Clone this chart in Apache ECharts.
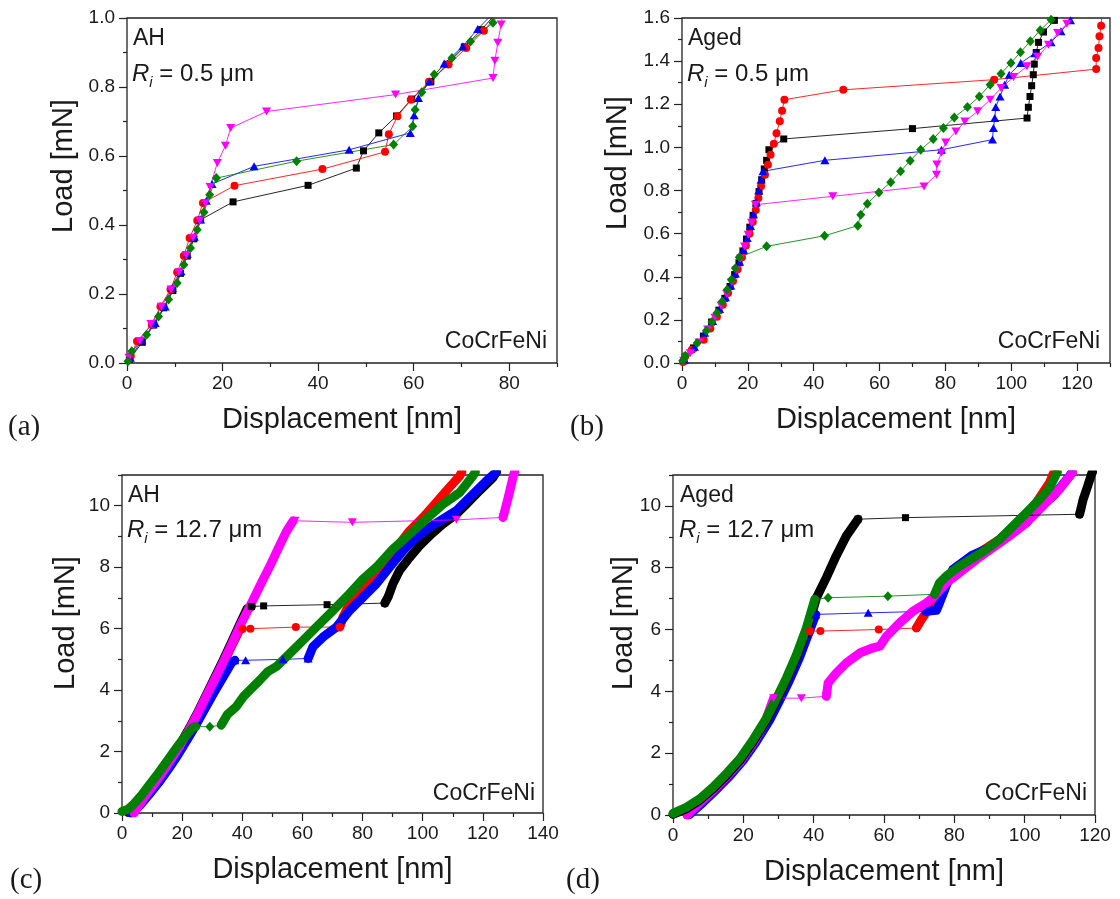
<!DOCTYPE html>
<html>
<head>
<meta charset="utf-8">
<script src="https://cdn.jsdelivr.net/npm/echarts@6/dist/echarts.min.js"></script>
<style>
  html, body { margin: 0; padding: 0; background: #ffffff; }
  #chart { width: 1120px; height: 899px; }
</style>
</head>
<body>
<div id="chart"></div>
<script>
// Tick values
const xTicksA = [0, 20, 40, 60, 80];
const xMinorA = [10, 30, 50, 70, 90];
const yTicksA = [0, 0.2, 0.4, 0.6, 0.8, 1.0];
const yMinorA = [0.1, 0.3, 0.5, 0.7, 0.9];
const xTicksB = [0, 20, 40, 60, 80, 100, 120];
const xMinorB = [10, 30, 50, 70, 90, 110, 130];
const yTicksB = [0, 0.2, 0.4, 0.6, 0.8, 1.0, 1.2, 1.4, 1.6];
const yMinorB = [0.1, 0.3, 0.5, 0.7, 0.9, 1.1, 1.3, 1.5];
const xTicksC = [0, 20, 40, 60, 80, 100, 120, 140];
const xMinorC = [10, 30, 50, 70, 90, 110, 130];
const xTicksD = [0, 20, 40, 60, 80, 100, 120];
const xMinorD = [10, 30, 50, 70, 90, 110];
const yTicksCD = [0, 2, 4, 6, 8, 10];
const yMinorCD = [1, 3, 5, 7, 9, 11];

// (a) AH, Ri = 0.5 um
const aBlack = [[0.5,0.01],[3.2,0.06],[5.6,0.11],[7.7,0.16],[9.6,0.21],[11.2,0.26],[12.6,0.31],[14.0,0.36],[15.4,0.415],[22.2,0.467],[37.9,0.515],[48.0,0.565],[49.5,0.615],[52.7,0.667],[56.4,0.716],[59.6,0.765],[63.6,0.816],[67.0,0.866],[70.6,0.916],[74.2,0.966],[77.0,1.01]];
const aRed = [[0.8,0.02],[2.1,0.063],[5.2,0.111],[7.0,0.164],[9.1,0.213],[10.5,0.263],[11.9,0.311],[13.1,0.362],[14.7,0.413],[15.9,0.464],[22.5,0.514],[40.9,0.562],[54.0,0.612],[54.8,0.663],[56.6,0.715],[59.4,0.763],[63.2,0.815],[67.3,0.865],[71.0,0.913],[74.7,0.963],[77.5,1.01]];
const aBlue = [[0.7,0.015],[3.1,0.066],[5.9,0.116],[8.0,0.164],[9.5,0.218],[11.3,0.266],[12.6,0.317],[14.1,0.366],[15.4,0.416],[16.6,0.47],[17.8,0.519],[26.6,0.570],[46.5,0.618],[59.3,0.667],[60.1,0.718],[61.0,0.768],[63.3,0.816],[66.4,0.868],[70.3,0.918],[73.4,0.968],[76.0,1.005]];
const aMagenta = [[0.4,0.015],[2.7,0.064],[5.0,0.113],[7.2,0.163],[9.2,0.213],[10.9,0.263],[12.4,0.313],[13.8,0.363],[15.2,0.413],[16.4,0.463],[17.4,0.51],[18.9,0.58],[20.6,0.630],[21.7,0.681],[29.2,0.729],[56.2,0.778],[76.6,0.826],[77.0,0.876],[77.6,0.928],[78.3,0.981],[78.8,1.03]];
const aGreen = [[0.2,0.005],[1.0,0.034],[4.1,0.082],[6.6,0.135],[8.7,0.184],[10.5,0.232],[11.9,0.285],[13.3,0.333],[14.7,0.386],[16.1,0.437],[17.3,0.488],[18.7,0.536],[35.5,0.585],[55.8,0.633],[59.8,0.686],[60.3,0.734],[61.7,0.785],[64.3,0.836],[68.0,0.884],[71.9,0.932],[76.6,0.986],[78.0,1.02]];

// (b) Aged, Ri = 0.5 um
const bBlack = [[0.6,0.01],[3.5,0.07],[6.5,0.125],[9.0,0.19],[11.2,0.245],[13.0,0.3],[14.6,0.355],[16.0,0.41],[17.3,0.465],[18.5,0.52],[19.6,0.575],[20.6,0.63],[21.6,0.685],[22.5,0.74],[23.4,0.795],[24.2,0.85],[25.0,0.9],[25.7,0.94],[26.4,0.989],[30.9,1.039],[70.0,1.087],[104.8,1.136],[105.2,1.186],[105.7,1.236],[106.2,1.286],[106.7,1.337],[107.0,1.386],[107.6,1.44],[108.3,1.487],[109.8,1.535],[113.1,1.589],[115.0,1.62]];
const bRed = [[0.3,0.005],[1.0,0.031],[3.0,0.062],[6.6,0.108],[8.6,0.16],[10.6,0.215],[12.4,0.27],[14.0,0.325],[15.5,0.38],[16.9,0.435],[18.2,0.49],[19.4,0.545],[20.5,0.6],[21.5,0.655],[22.4,0.71],[23.2,0.765],[24.0,0.82],[25.2,0.873],[26.1,0.920],[26.9,0.966],[27.9,1.017],[28.7,1.066],[29.7,1.121],[30.4,1.170],[31.1,1.221],[49.0,1.267],[94.8,1.314],[125.8,1.363],[125.8,1.414],[126.5,1.461],[126.8,1.515],[127.3,1.564],[127.6,1.62]];
const bBlue = [[0.8,0.015],[3.8,0.075],[6.9,0.14],[9.3,0.195],[11.4,0.25],[13.2,0.305],[14.8,0.36],[16.2,0.415],[17.5,0.47],[18.7,0.525],[19.8,0.58],[20.8,0.635],[21.7,0.69],[22.6,0.745],[23.3,0.8],[24.0,0.85],[24.6,0.889],[43.4,0.94],[78.8,0.989],[94.3,1.036],[94.6,1.09],[95.0,1.136],[95.3,1.187],[96.6,1.236],[98.0,1.29],[99.4,1.337],[102.9,1.391],[107.2,1.437],[112.1,1.487],[115.1,1.538],[118.0,1.589],[120.0,1.62]];
const bMagenta = [[0.5,0.01],[2.5,0.045],[5.2,0.095],[7.8,0.155],[10.0,0.21],[11.9,0.265],[13.6,0.32],[15.1,0.375],[16.5,0.43],[17.8,0.485],[19.0,0.54],[20.1,0.595],[21.1,0.65],[22.3,0.734],[45.8,0.773],[73.5,0.819],[77.3,0.873],[77.4,0.921],[78.8,0.975],[80.1,1.023],[83.2,1.074],[85.9,1.12],[89.8,1.167],[93.6,1.221],[96.9,1.275],[100.7,1.326],[104.8,1.376],[108.0,1.42],[111.3,1.476],[114.1,1.530],[116.9,1.573],[118.5,1.62]];
const bGreen = [[0.2,0.01],[1.0,0.034],[4.6,0.093],[7.4,0.15],[9.1,0.19],[10.6,0.232],[12.2,0.285],[13.7,0.34],[15.0,0.386],[16.2,0.44],[17.4,0.49],[25.7,0.541],[43.3,0.590],[53.4,0.637],[54.3,0.688],[56.3,0.739],[59.8,0.791],[63.4,0.838],[66.4,0.889],[69.3,0.938],[72.5,0.989],[76.3,1.039],[79.4,1.09],[82.7,1.139],[86.7,1.187],[90.3,1.236],[93.6,1.291],[96.9,1.342],[99.9,1.391],[102.8,1.441],[105.8,1.492],[108.8,1.543],[112.1,1.592],[114.0,1.62]];

// (c) AH, Ri = 12.7 um : loading before pop-in, pop-in points, loading after
const cBlackPre = [[2,0.02],[4.5,0.25],[7.5,0.6],[10.5,0.97],[13.6,1.38],[17,1.87],[19.7,2.3],[22.5,2.78],[25.3,3.3],[28,3.84],[30.8,4.4],[33.6,4.96],[36.4,5.55],[39.1,6.13],[41.6,6.65],[43,6.72]];
const cBlackPop = [[43,6.72],[47.1,6.74],[68.2,6.78],[87.4,6.83]];
const cBlackPost = [[87.4,6.83],[88.5,7.03],[90.1,7.46],[92.3,7.89],[95.7,8.32],[99.0,8.70],[102.9,9.08],[106.8,9.41],[111.2,9.73],[114.5,10.05],[118.9,10.49],[123.4,10.92],[124.5,11.1]];
const cRedPre = [[3,0],[5.5,0.3],[8.3,0.65],[11.3,1.05],[14.4,1.47],[17.6,1.93],[20.3,2.35],[23,2.8],[25.8,3.3],[28.5,3.83],[31.2,4.36],[34,4.92],[36.7,5.48],[39.2,5.98],[40,6.0]];
const cRedPop = [[40,6.0],[42.7,6.0],[57.8,6.05],[72.4,6.05]];
const cRedPost = [[72.4,6.05],[73.5,6.38],[75.7,6.81],[80.2,7.35],[84.6,7.78],[89,8.32],[92.3,8.76],[95.7,9.19],[100.1,9.62],[104,10.05],[107.9,10.49],[112.3,10.97],[113,11.1]];
const cBluePre = [[3,0],[6,0.25],[9,0.6],[12.3,1.0],[15.6,1.45],[18.8,1.92],[21.8,2.4],[24.8,2.9],[27.8,3.43],[30.8,3.95],[33.8,4.45],[36.5,4.9],[37.5,4.97]];
const cBluePop = [[37.5,4.97],[41.1,4.97],[53.5,5.0],[61.9,5.03]];
const cBluePost = [[61.9,5.03],[63.5,5.41],[66.9,5.73],[71.3,6.05],[75.7,6.59],[80.2,7.03],[84.6,7.46],[89.0,8.0],[93.5,8.54],[97.9,8.97],[102.3,9.30],[106.8,9.57],[111.2,9.84],[115.6,10.27],[121.2,10.81],[124.5,11.1]];
const cMagentaPre = [[4,0],[7,0.45],[10,0.85],[13.3,1.3],[16.7,1.8],[19.7,2.27],[22.5,2.74],[25.3,3.26],[28,3.8],[30.8,4.34],[33.6,4.9],[36.4,5.48],[39.1,6.06],[42.5,6.72],[45.8,7.38],[49.1,8.02],[51.9,8.6],[54.6,9.15],[56.9,9.51]];
const cMagentaPop = [[57.5,9.51],[76.6,9.46],[111.2,9.54],[126.7,9.62]];
const cMagentaPost = [[126.7,9.62],[127.2,9.8],[128.0,10.1],[129.0,10.5],[130.2,11.0],[130.6,11.1]];
const cGreenPre = [[0,0.05],[2,0.12],[4,0.3],[6.5,0.58],[9,0.9],[11.5,1.22],[14,1.56],[16.5,1.9],[19,2.24],[21.5,2.55],[23.5,2.78],[24.5,2.81]];
const cGreenPop = [[24.5,2.81],[29.2,2.81],[33.0,2.86]];
const cGreenPost = [[33.0,2.86],[35,3.2],[38.0,3.46],[40.5,3.8],[42.5,4.0],[45.8,4.32],[48.5,4.6],[51.3,4.76],[55.8,5.19],[60.2,5.62],[64.6,6.05],[70.2,6.59],[75.7,7.14],[80.2,7.62],[84.6,8.0],[90.1,8.59],[95.7,9.08],[101.2,9.57],[106.8,10.05],[112.3,10.43],[116.7,10.97],[117.5,11.1]];

// (d) Aged, Ri = 12.7 um
const dRedPre = [[4,0],[7.8,0.38],[11.6,0.78],[15.4,1.22],[19.2,1.7],[22.9,2.3],[26.7,3.0],[29.6,3.65],[32.4,4.3],[35.3,5.05],[37.6,5.7],[38.9,5.95]];
const dRedPop = [[38.9,5.95],[41.9,5.95],[58.5,6.0],[69.2,6.05]];
const dRedPost = [[69.2,6.05],[70.0,6.2],[70.6,6.32],[71.6,6.49],[73,6.86],[76.8,7.51],[81.5,7.95],[87.2,8.49],[92.9,8.92],[98.6,9.46],[103.3,10.1],[107.1,10.76],[108.1,11.03],[108.5,11.1]];
const dBluePre = [[4.5,0],[8.5,0.4],[12.3,0.82],[16.1,1.26],[19.9,1.76],[23.6,2.36],[27.4,3.05],[30.3,3.7],[33.1,4.35],[36.0,5.1],[38.8,5.95],[40.6,6.49]];
const dBluePop = [[40.6,6.49],[55.5,6.54],[72.0,6.59]];
const dBluePost = [[72.0,6.59],[74.9,6.62],[75.8,6.86],[77.3,7.3],[79.6,7.95],[85,8.4],[91,8.7],[96,9.1],[100.5,9.46],[104.3,10.0],[108.1,10.32],[112.8,10.97],[113.5,11.1]];
const dMagentaPre = [[4,0],[7.8,0.42],[11.6,0.82],[15.4,1.26],[19.2,1.74],[22.9,2.34],[26.0,2.95],[28.6,3.78]];
const dMagentaPop = [[28.6,3.78],[36.5,3.78],[43.6,3.84]];
const dMagentaPost = [[43.6,3.84],[44.1,4.27],[46.4,4.59],[49.3,4.92],[53.1,5.24],[56.9,5.41],[58.8,5.46],[60.7,5.78],[64.5,6.22],[68.2,6.59],[72.0,6.86],[74.4,7.08],[77.7,7.51],[81.5,7.84],[86.3,8.27],[91.0,8.65],[95.7,9.03],[100.5,9.46],[105.2,10.0],[109.9,10.54],[113.3,11.03],[113.6,11.1]];
const dBlackPre = [[0,0.02],[3.8,0.2],[7.6,0.48],[11.4,0.85],[15.2,1.28],[19.0,1.76],[22.7,2.36],[26.5,3.05],[29.4,3.7],[32.2,4.35],[35.1,5.1],[37.9,5.95],[40.0,6.7],[40.8,7.03],[43.6,7.68],[46.4,8.38],[49.3,9.03],[52.6,9.57]];
const dBlackPop = [[52.6,9.57],[66.1,9.62],[115.6,9.73]];
const dBlackPost = [[115.6,9.73],[116.0,9.9],[116.6,10.2],[117.8,10.6],[119.0,11.03],[119.3,11.1]];
const dGreenPre = [[0,0.05],[3.8,0.25],[7.6,0.52],[11.4,0.9],[15.2,1.34],[19.0,1.82],[22.7,2.42],[26.5,3.12],[29.4,3.77],[32.2,4.42],[35.1,5.18],[37.9,6.04],[40.3,6.97]];
const dGreenPop = [[40.3,6.97],[44.1,7.03],[61.1,7.08],[74.4,7.14]];
const dGreenPost = [[74.4,7.14],[75.8,7.51],[77.7,7.73],[81.5,8.05],[85.3,8.32],[89.1,8.59],[92.9,8.92],[96.7,9.35],[100.5,9.78],[104.3,10.22],[107.1,10.59],[109.0,11.03],[109.3,11.1]];

const FONT = "'Liberation Sans', Arial, Helvetica, sans-serif";
const SERIF = "'Liberation Serif', 'Times New Roman', serif";
const INK = '#1a1a1a';

const COLOR = { black: '#000000', red: '#ff0000', blue: '#0000ff', magenta: '#ff00ff', green: '#008000' };
const SYMBOL = { black: 'rect', red: 'circle', blue: 'triangle', magenta: 'triangle', green: 'diamond' };
const SYMSIZE = { black: 7, red: 8, blue: [9, 8], magenta: [9, 8], green: [9, 10] };

const panels = [
    { grid: { left: 127, top: 18, width: 430, height: 345 }, xMax: 90, yMax: 1.0,
      xTicks: xTicksA, xMinor: xMinorA, yTicks: yTicksA, yMinor: yMinorA, dec: 1 },
    { grid: { left: 682, top: 18, width: 428, height: 345 }, xMax: 130, yMax: 1.6,
      xTicks: xTicksB, xMinor: xMinorB, yTicks: yTicksB, yMinor: yMinorB, dec: 1 },
    { grid: { left: 122, top: 475, width: 421, height: 338 }, xMax: 140, yMax: 11,
      xTicks: xTicksC, xMinor: xMinorC, yTicks: yTicksCD, yMinor: yMinorCD, dec: 0 },
    { grid: { left: 673, top: 475, width: 422, height: 340 }, xMax: 120, yMax: 11,
      xTicks: xTicksD, xMinor: xMinorD, yTicks: yTicksCD, yMinor: yMinorCD, dec: 0 }
];

const grids = [], xAxes = [], yAxes = [];
panels.forEach((p, i) => {
    grids.push(Object.assign({ show: true, borderColor: '#222', borderWidth: 1.3, backgroundColor: 'transparent' }, p.grid));
    const tickStyle = { color: '#222', width: 1.2 };
    xAxes.push({
        gridIndex: i, type: 'value', min: 0, max: p.xMax, position: 'bottom',
        axisLine: { show: false },
        axisTick: { show: true, length: 8, customValues: p.xTicks, lineStyle: tickStyle },
        axisLabel: { customValues: p.xTicks, fontSize: 19, color: INK, margin: 11, fontFamily: FONT },
        splitLine: { show: false },
        name: 'Displacement [nm]', nameLocation: 'middle', nameGap: 42,
        nameTextStyle: { fontSize: 29, color: INK, fontFamily: FONT }
    });
    xAxes.push({
        gridIndex: i, type: 'value', min: 0, max: p.xMax, position: 'bottom',
        axisLine: { show: false },
        axisTick: { show: true, length: 4, customValues: p.xMinor, lineStyle: tickStyle },
        axisLabel: { show: false }, splitLine: { show: false }
    });
    yAxes.push({
        gridIndex: i, type: 'value', min: 0, max: p.yMax, position: 'left',
        axisLine: { show: false },
        axisTick: { show: true, length: 8, customValues: p.yTicks, lineStyle: tickStyle },
        axisLabel: { customValues: p.yTicks, fontSize: 19, color: INK, margin: 12, fontFamily: FONT,
                     formatter: v => v.toFixed(p.dec) },
        splitLine: { show: false }
    });
    yAxes.push({
        gridIndex: i, type: 'value', min: 0, max: p.yMax, position: 'left',
        axisLine: { show: false },
        axisTick: { show: true, length: 4, customValues: p.yMinor, lineStyle: tickStyle },
        axisLabel: { show: false }, splitLine: { show: false }
    });
});

function markers(gi, key, data) {
    return {
        type: 'line', xAxisIndex: gi * 2, yAxisIndex: gi * 2, data: data,
        symbol: SYMBOL[key], symbolSize: SYMSIZE[key], symbolRotate: key === 'magenta' ? 180 : 0,
        showSymbol: true, clip: true, silent: true,
        itemStyle: { color: COLOR[key], borderWidth: 0 },
        lineStyle: { color: COLOR[key], width: 1, opacity: 0.85 }
    };
}

function band(gi, key, data) {
    return {
        type: 'line', xAxisIndex: gi * 2, yAxisIndex: gi * 2, data: data,
        symbol: 'none', clip: true, silent: true,
        lineStyle: { color: COLOR[key], width: 9, cap: 'round', join: 'round' }
    };
}

const series = [];
[['black', aBlack], ['red', aRed], ['blue', aBlue], ['magenta', aMagenta], ['green', aGreen]]
    .forEach(([k, d]) => series.push(markers(0, k, d)));
[['black', bBlack], ['red', bRed], ['blue', bBlue], ['magenta', bMagenta], ['green', bGreen]]
    .forEach(([k, d]) => series.push(markers(1, k, d)));
[['black', cBlackPre, cBlackPop, cBlackPost], ['red', cRedPre, cRedPop, cRedPost],
 ['blue', cBluePre, cBluePop, cBluePost], ['magenta', cMagentaPre, cMagentaPop, cMagentaPost],
 ['green', cGreenPre, cGreenPop, cGreenPost]]
    .forEach(([k, pre, pop, post]) => {
        series.push(band(2, k, pre), markers(2, k, pop), band(2, k, post));
    });
[['red', dRedPre, dRedPop, dRedPost], ['blue', dBluePre, dBluePop, dBluePost],
 ['magenta', dMagentaPre, dMagentaPop, dMagentaPost], ['black', dBlackPre, dBlackPop, dBlackPost],
 ['green', dGreenPre, dGreenPop, dGreenPost]]
    .forEach(([k, pre, pop, post]) => {
        series.push(band(3, k, pre), markers(3, k, pop), band(3, k, post));
    });

// texts inside and around the panels
function plain(x, y, text, size, align, family) {
    return { type: 'text', x: x, y: y, silent: true,
        style: { text: text, fontSize: size, fontFamily: family || FONT, fill: INK,
                 textAlign: align || 'left', textVerticalAlign: 'middle' } };
}
function radius(x, y, value) {
    return { type: 'text', x: x, y: y, silent: true,
        style: {
            text: '{it|R}{sub|i}{n| = ' + value + ' \u03bcm}', fill: INK, textVerticalAlign: 'middle',
            rich: {
                it: { fontSize: 24, fontStyle: 'italic', fontFamily: FONT, lineHeight: 32, fill: INK },
                sub: { fontSize: 15, fontStyle: 'italic', fontFamily: FONT, lineHeight: 12, verticalAlign: 'bottom', fill: INK },
                n: { fontSize: 24, fontFamily: FONT, lineHeight: 32, fill: INK }
            }
        } };
}
function loadTitle(x, y) {
    return { type: 'text', x: x, y: y, rotation: Math.PI / 2, silent: true,
        style: { text: 'Load [mN]', fontSize: 29, fontFamily: FONT, fill: INK,
                 textAlign: 'center', textVerticalAlign: 'middle' } };
}

const graphic = [
    loadTitle(64, 166), loadTitle(618, 163), loadTitle(66, 623), loadTitle(624, 623),
    plain(133, 39, 'AH', 23), radius(132, 74, '0.5'), plain(547, 342, 'CoCrFeNi', 23, 'right'),
    plain(688, 39, 'Aged', 23), radius(687, 74, '0.5'), plain(1100, 342, 'CoCrFeNi', 23, 'right'),
    plain(128, 496, 'AH', 23), radius(127, 530, '12.7'), plain(535, 794, 'CoCrFeNi', 23, 'right'),
    plain(680, 496, 'Aged', 23), radius(679, 530, '12.7'), plain(1087, 794, 'CoCrFeNi', 23, 'right'),
    plain(8, 427, '(a)', 29, 'left', SERIF), plain(570, 427, '(b)', 29, 'left', SERIF),
    plain(10, 880, '(c)', 29, 'left', SERIF), plain(566, 880, '(d)', 29, 'left', SERIF)
];

const chart = echarts.init(document.getElementById('chart'));
chart.setOption({
    backgroundColor: '#ffffff',
    animation: false,
    grid: grids,
    xAxis: xAxes,
    yAxis: yAxes,
    series: series,
    graphic: graphic
});
window.addEventListener('resize', () => chart.resize());
</script>
</body>
</html>
